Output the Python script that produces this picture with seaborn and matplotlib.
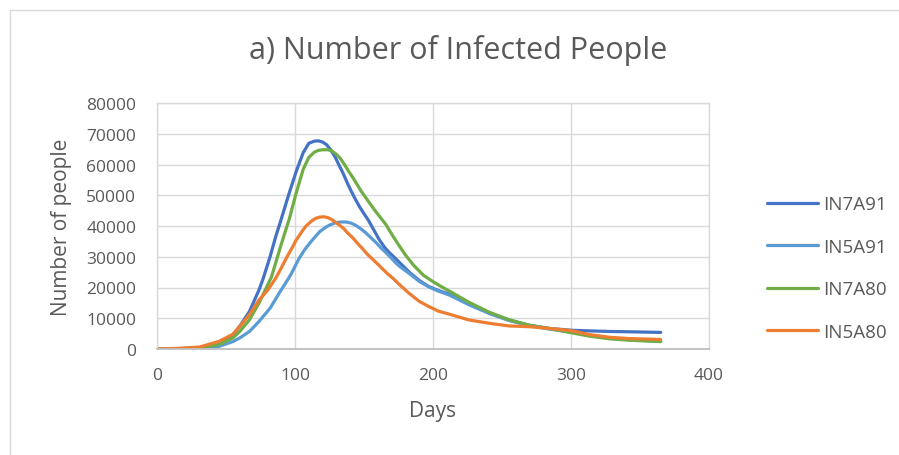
import numpy as np
import pandas as pd
import matplotlib
matplotlib.use("Agg")
import matplotlib.pyplot as plt
import seaborn as sns
from matplotlib.lines import Line2D

# values (day, number of infected people)
days_in7a91 = [0, 15, 31, 45, 55, 60, 67, 74, 77, 82, 86, 90, 96, 101, 106, 110, 114,
               117, 120, 123, 126, 129, 132, 135, 138, 141, 144, 147, 150, 153, 157,
               161, 165, 168, 172, 176, 183, 190, 197, 204, 212, 226, 241, 255, 270,
               284, 300, 313, 328, 342, 365]
in7a91 = [0, 100, 300, 1100, 4600, 7400, 12200, 19300, 23000, 30100, 36500, 42200,
          51000, 57900, 63900, 66900, 67600, 67700, 67300, 66400, 64700, 62500, 59700,
          57000, 53900, 51100, 48500, 46100, 44000, 42000, 38800, 35600, 33000, 31500,
          29800, 28000, 24900, 22300, 20300, 19000, 17800, 14600, 11700, 9400, 7700,
          6700, 6100, 5900, 5700, 5600, 5400]

days_in5a91 = [0, 15, 31, 45, 55, 60, 67, 74, 82, 89, 93, 97, 103, 107, 111, 115, 118,
               122, 125, 129, 133, 137, 141, 144, 148, 151, 155, 159, 162, 166, 170,
               173, 176, 183, 190, 197, 204, 212, 226, 241, 255, 270, 284, 300, 313,
               328, 342, 365]
in5a91 = [0, 50, 100, 870, 2400, 3600, 5700, 9000, 13300, 18500, 21300, 24200, 29500,
          32300, 34600, 36700, 38200, 39500, 40300, 41000, 41300, 41300, 40900, 40200,
          39000, 37900, 36200, 34500, 33000, 31300, 29500, 28000, 26800, 24500, 22000,
          20200, 18800, 17500, 14400, 11500, 9300, 7600, 6500, 5500, 4500, 3600, 3000,
          2500]

days_in7a80 = [0, 15, 31, 45, 55, 60, 67, 74, 83, 90, 96, 101, 106, 110, 114, 117, 120,
               124, 127, 130, 133, 136, 139, 142, 145, 148, 151, 154, 158, 162, 166,
               170, 174, 180, 186, 193, 200, 206, 212, 226, 241, 255, 270, 284, 300,
               313, 328, 342, 365]
in7a80 = [0, 100, 300, 1500, 3600, 5700, 9500, 15000, 23500, 34000, 42500, 51000,
          58500, 62300, 64000, 64600, 64800, 64800, 64300, 63300, 61900, 59900, 57700,
          55700, 53500, 51300, 49400, 47500, 45000, 42700, 40400, 37400, 34600, 30600,
          27200, 24000, 21900, 20300, 18800, 15200, 11900, 9550, 7700, 6700, 5300,
          4200, 3300, 2850, 2400]

days_in5a80 = [0, 15, 31, 45, 55, 60, 67, 74, 80, 86, 90, 94, 98, 101, 105, 108, 112,
               115, 118, 121, 124, 127, 131, 135, 138, 142, 145, 149, 152, 156, 160,
               164, 167, 171, 176, 183, 190, 197, 204, 212, 226, 241, 255, 270, 284,
               300, 313, 328, 342, 365]
in5a80 = [0, 200, 650, 2500, 4800, 7400, 11200, 16000, 19000, 23000, 26300, 29800,
          33000, 35500, 38200, 40000, 41600, 42500, 42900, 43000, 42700, 42000, 40700,
          39300, 37800, 36100, 34500, 32600, 31000, 29300, 27600, 25800, 24500, 23000,
          20800, 18000, 15500, 13800, 12300, 11300, 9450, 8350, 7500, 7250, 6700,
          6000, 4700, 3800, 3400, 3100]

series = ["IN7A91", "IN5A91", "IN7A80", "IN5A80"]
colors = ["#4472C4", "#5B9BD5", "#70AD47", "#ED7D31"]

frames = []
for name, d, v in zip(series,
                      [days_in7a91, days_in5a91, days_in7a80, days_in5a80],
                      [in7a91, in5a91, in7a80, in5a80]):
    frames.append(pd.DataFrame({"Days": d, "People": v, "Scenario": name}))
df = pd.concat(frames, ignore_index=True)

sns.set_style("white")
plt.rcParams["font.family"] = ["Open Sans", "DejaVu Sans"]
grey = "#595959"

fig = plt.figure(figsize=(8.99, 4.56), dpi=100)
ax = fig.add_axes([157 / 899, 1 - 350 / 456, (709 - 157) / 899, (350 - 104) / 456])

sns.lineplot(data=df, x="Days", y="People", hue="Scenario", hue_order=series,
             palette=colors, linewidth=2.3, ax=ax, estimator=None,
             solid_capstyle="round", solid_joinstyle="round")

ax.set_xlim(0, 400)
ax.set_ylim(0, 80000)
ax.set_xticks(range(0, 401, 100))
ax.set_yticks(range(0, 80001, 10000))
ax.grid(True, color="#d9d9d9", linewidth=1)
ax.set_axisbelow(True)
for side in ["left", "right", "top"]:
    ax.spines[side].set_color("#d9d9d9")
    ax.spines[side].set_linewidth(1)
ax.spines["bottom"].set_color("#bfbfbf")
ax.spines["bottom"].set_linewidth(1.3)
ax.tick_params(axis="both", length=0, labelsize=12.5, colors=grey)
ax.tick_params(axis="y", pad=15)
ax.tick_params(axis="x", pad=13)

ax.set_xlabel("Days", fontsize=15, color=grey, labelpad=12)
ax.set_ylabel("Number of people", fontsize=15, color=grey, labelpad=10)
fig.text(458 / 899, 1 - 50 / 456, "a) Number of Infected People", fontsize=22,
         color=grey, ha="center", va="center")

leg = ax.legend(loc="center left", bbox_to_anchor=(750 / 899, 1 - 269 / 456),
                bbox_transform=fig.transFigure, frameon=False, fontsize=13.5,
                handlelength=2.7, handletextpad=0.3, labelspacing=1.3)
for t in leg.get_texts():
    t.set_color(grey)
for h in leg.get_lines():
    h.set_linewidth(2.3)

# chart border (top and left edges visible in the reference)
fig.add_artist(Line2D([10 / 899, 1], [1 - 11 / 456, 1 - 11 / 456], color="#d9d9d9", lw=1))
fig.add_artist(Line2D([10 / 899, 10 / 899], [0, 1 - 11 / 456], color="#d9d9d9", lw=1))

fig.savefig("out.png", dpi=100)
